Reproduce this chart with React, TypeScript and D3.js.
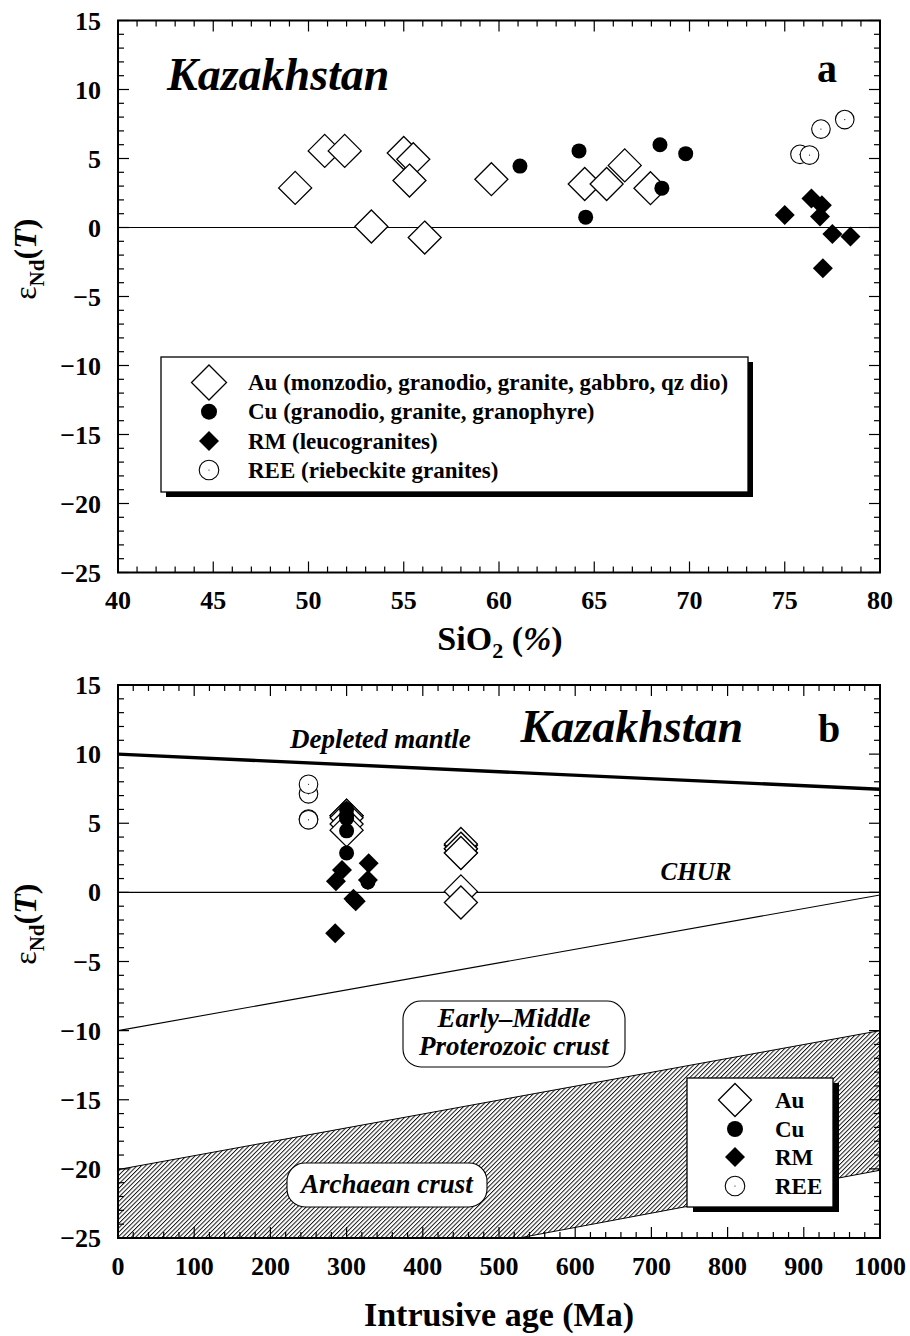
import React from "react";
import * as d3 from "d3";

// ---------- Panel a data (SiO2 %, eNd(T)) ----------
const auSiO2 = [49.3, 50.85, 51.9, 53.3, 55.0, 55.5, 55.3, 56.1, 59.6, 64.5, 65.65, 66.6, 67.95];
const auEps = [2.87, 5.55, 5.55, 0.07, 5.4, 4.95, 3.4, -0.73, 3.5, 3.15, 3.15, 4.5, 2.85];
const cuSiO2 = [61.1, 64.2, 64.55, 68.45, 69.8, 68.55];
const cuEps = [4.45, 5.55, 0.75, 6.0, 5.35, 2.85];
const rmSiO2 = [75.0, 76.4, 76.95, 76.85, 77.5, 78.45, 77.0];
const rmEps = [0.9, 2.1, 1.62, 0.8, -0.47, -0.65, -2.96];
const reeSiO2 = [75.8, 76.3, 76.9, 78.15];
const reeEps = [5.3, 5.25, 7.13, 7.82];

// ---------- Panel b data (intrusive age, Ma) ----------
const auAge = [450, 300, 300, 450, 300, 300, 450, 450, 450, 450, 450, 300, 450];
const cuAge = [300, 300, 328, 300, 300, 300];
const rmAge = [328, 329, 294, 286, 309, 312, 285];
const reeAge = [250, 250, 250, 250];

// reference curves (age Ma, eNd)
const depletedMantle = [[0, 10], [1000, 7.46]];
const churLine = [[0, 0], [1000, 0]];
const proterozoicLine = [[0, -10], [1000, -0.19]];
const archaeanUpper = [[0, -20.05], [1000, -10]];
const archaeanLower = [[0, -25], [526, -25], [1000, -20.1]];

// axes
const siTicks = [40, 45, 50, 55, 60, 65, 70, 75, 80];
const ageTicks = [0, 100, 200, 300, 400, 500, 600, 700, 800, 900, 1000];
const epsTicks = [15, 10, 5, 0, -5, -10, -15, -20, -25];

const legendALabels = [
  "Au (monzodio, granodio, granite, gabbro, qz dio)",
  "Cu (granodio, granite, granophyre)",
  "RM (leucogranites)",
  "REE (riebeckite granites)",
];
const legendBLabels = ["Au", "Cu", "RM", "REE"];

const FONT = "Liberation Serif";
const L = 118, R = 880;
const A_TOP = 20.5, A_BOT = 572.5;
const B_TOP = 685, B_BOT = 1238;

const sx = d3.scaleLinear().domain([40, 80]).range([L, R]);
const syA = d3.scaleLinear().domain([-25, 15]).range([A_BOT, A_TOP]);
const ax = d3.scaleLinear().domain([0, 1000]).range([L, R]);
const syB = d3.scaleLinear().domain([-25, 15]).range([B_BOT, B_TOP]);

const diamond = (cx: number, cy: number, h: number) =>
  `M${cx},${cy - h}L${cx + h},${cy}L${cx},${cy + h}L${cx - h},${cy}Z`;

function AuMark({ x, y, h = 16.5 }: { x: number; y: number; h?: number }) {
  return <path d={diamond(x, y, h)} fill="#fff" stroke="#000" strokeWidth={1.3} />;
}
function CuMark({ x, y, r = 7.5 }: { x: number; y: number; r?: number }) {
  return <circle cx={x} cy={y} r={r} fill="#000" />;
}
function RmMark({ x, y, h = 10 }: { x: number; y: number; h?: number }) {
  return <path d={diamond(x, y, h)} fill="#000" />;
}
function ReeMark({ x, y, r = 9.3 }: { x: number; y: number; r?: number }) {
  return (
    <g>
      <circle cx={x} cy={y} r={r} fill="#fff" stroke="#000" strokeWidth={1.1} />
      <circle cx={x} cy={y} r={0.6} fill="#000" />
    </g>
  );
}

function Frame({
  xs, ys, xMajor, xMinorStep, top, bot,
}: {
  xs: d3.ScaleLinear<number, number>; ys: d3.ScaleLinear<number, number>;
  xMajor: number[]; xMinorStep: number; top: number; bot: number;
}) {
  const [x0, x1] = xs.domain();
  const xMinor = d3.range(x0, x1 + 1e-9, xMinorStep);
  const yMinor = d3.range(-25, 15 + 1e-9, 1);
  const els: React.ReactNode[] = [];
  xMinor.forEach((v, i) => {
    const major = xMajor.some((m) => Math.abs(m - v) < 1e-6);
    const len = major ? 11 : 6;
    const px = xs(v);
    els.push(<line key={"xb" + i} x1={px} x2={px} y1={bot} y2={bot - len} stroke="#000" strokeWidth={1.2} />);
    els.push(<line key={"xt" + i} x1={px} x2={px} y1={top} y2={top + len} stroke="#000" strokeWidth={1.2} />);
  });
  yMinor.forEach((v, i) => {
    const major = Math.abs(v % 5) < 1e-6;
    const len = major ? 11 : 6;
    const py = ys(v);
    els.push(<line key={"yl" + i} x1={L} x2={L + len} y1={py} y2={py} stroke="#000" strokeWidth={1.2} />);
    els.push(<line key={"yr" + i} x1={R} x2={R - len} y1={py} y2={py} stroke="#000" strokeWidth={1.2} />);
  });
  return (
    <g>
      {els}
      <rect x={L} y={top} width={R - L} height={bot - top} fill="none" stroke="#000" strokeWidth={2} />
      {epsTicks.map((t) => (
        <text key={"yt" + t} x={L - 17} y={ys(t)} dy="0.35em" textAnchor="end"
          fontFamily={FONT} fontWeight="bold" fontSize={26}>
          {t < 0 ? "\u2212" + Math.abs(t) : t}
        </text>
      ))}
      {xMajor.map((t) => (
        <text key={"xt" + t} x={xs(t)} y={bot + 36.5} textAnchor="middle"
          fontFamily={FONT} fontWeight="bold" fontSize={26}>
          {t}
        </text>
      ))}
    </g>
  );
}

function YLabel({ cy }: { cy: number }) {
  return (
    <text transform={`translate(36,${cy}) rotate(-90)`} textAnchor="middle"
      fontFamily={FONT} fontSize={32}>
      <tspan>ε</tspan>
      <tspan fontWeight="bold" fontSize={21} dy="8">Nd</tspan>
      <tspan fontWeight="bold" dy="-8">(</tspan>
      <tspan fontWeight="bold" fontStyle="italic">T</tspan>
      <tspan fontWeight="bold">)</tspan>
    </text>
  );
}

function RoundBox({ x, y, w, h, lines, baselines, fs }: { x: number; y: number; w: number; h: number; lines: string[]; baselines: number[]; fs: number }) {
  return (
    <g>
      <rect x={x} y={y} width={w} height={h} rx={18} ry={18} fill="#fff" stroke="#000" strokeWidth={1.1} />
      {lines.map((t, i) => (
        <text key={i} x={x + w / 2} y={baselines[i]} textAnchor="middle"
          fontFamily={FONT} fontWeight="bold" fontStyle="italic" fontSize={fs}>
          {t}
        </text>
      ))}
    </g>
  );
}

export default function App() {
  const lb = d3.line<number[]>().x((d) => ax(d[0])).y((d) => syB(d[1]));

  const lowerAt = (t: number) => {
    for (let i = 0; i < archaeanLower.length - 1; i++) {
      const [t0, e0] = archaeanLower[i];
      const [t1, e1] = archaeanLower[i + 1];
      if (t >= t0 && t <= t1) return e0 + ((t - t0) / (t1 - t0)) * (e1 - e0);
    }
    return -25;
  };
  const upperAt = (t: number) =>
    archaeanUpper[0][1] + ((t - archaeanUpper[0][0]) / (archaeanUpper[1][0] - archaeanUpper[0][0])) * (archaeanUpper[1][1] - archaeanUpper[0][1]);
  const bandTs = Array.from(new Set([...archaeanLower.map((d) => d[0]), ...archaeanUpper.map((d) => d[0])])).sort((a, b) => a - b);
  const band = d3.area<number>().x((t) => ax(t)).y0((t) => syB(lowerAt(t))).y1((t) => syB(upperAt(t)))(bandTs) || "";

  const legARows = [382.5, 411.7, 441, 470];
  const legBRows = [1100, 1129, 1157, 1186];

  return (
    <svg width={910} height={1336} style={{ position: "absolute", left: 0, top: 0, background: "#fff" }}
      xmlns="http://www.w3.org/2000/svg">
      <defs>
        <pattern id="hatch" patternUnits="userSpaceOnUse" width={3.1} height={3.1} patternTransform="rotate(45)">
          <line x1={0.5} y1={0} x2={0.5} y2={3.1} stroke="#000" strokeWidth={0.9} />
        </pattern>
        <clipPath id="clipB">
          <rect x={L} y={B_TOP} width={R - L} height={B_BOT - B_TOP} />
        </clipPath>
      </defs>
      <rect x={0} y={0} width={910} height={1336} fill="#fff" />

      {/* ================= Panel a ================= */}
      <line x1={L} x2={R} y1={syA(0)} y2={syA(0)} stroke="#000" strokeWidth={1.1} />
      <Frame xs={sx} ys={syA} xMajor={siTicks} xMinorStep={1} top={A_TOP} bot={A_BOT} />
      <text x={167} y={syA(10)} fontFamily={FONT} fontWeight="bold" fontStyle="italic" fontSize={46}>Kazakhstan</text>
      <text x={817} y={82} fontFamily={FONT} fontWeight="bold" fontSize={40}>a</text>

      {auSiO2.map((v, i) => <AuMark key={"aa" + i} x={sx(v)} y={syA(auEps[i])} />)}
      {cuSiO2.map((v, i) => <CuMark key={"ac" + i} x={sx(v)} y={syA(cuEps[i])} />)}
      {rmSiO2.map((v, i) => <RmMark key={"ar" + i} x={sx(v)} y={syA(rmEps[i])} />)}
      {reeSiO2.map((v, i) => <ReeMark key={"ae" + i} x={sx(v)} y={syA(reeEps[i])} />)}

      {/* legend a */}
      <rect x={166} y={362} width={587} height={135} fill="#000" />
      <rect x={161} y={357} width={587} height={135} fill="#fff" stroke="#000" strokeWidth={1.3} />
      <AuMark x={209} y={legARows[0]} h={17.5} />
      <CuMark x={209} y={legARows[1]} r={8} />
      <RmMark x={209} y={legARows[2]} />
      <ReeMark x={209} y={legARows[3]} r={9.8} />
      {legendALabels.map((t, i) => (
        <text key={t} x={248} y={legARows[i]} dy="0.33em" fontFamily={FONT} fontWeight="bold" fontSize={23}>{t}</text>
      ))}

      <YLabel cy={syA(-2.3)} />
      <text x={500} y={650} textAnchor="middle" fontFamily={FONT} fontWeight="bold" fontSize={34}>
        SiO<tspan fontSize={22} dy="8">2</tspan><tspan dy="-8"> (</tspan><tspan fontStyle="italic">%</tspan>)
      </text>

      {/* ================= Panel b ================= */}
      <g clipPath="url(#clipB)">
        <path d={band} fill="url(#hatch)" stroke="none" />
        <path d={lb(archaeanUpper) || ""} fill="none" stroke="#000" strokeWidth={1} />
        <path d={lb(archaeanLower) || ""} fill="none" stroke="#000" strokeWidth={1} />
        <path d={lb(proterozoicLine) || ""} fill="none" stroke="#000" strokeWidth={1.1} />
        <path d={lb(churLine) || ""} fill="none" stroke="#000" strokeWidth={1.1} />
        <path d={lb(depletedMantle) || ""} fill="none" stroke="#000" strokeWidth={3.4} />
      </g>
      <Frame xs={ax} ys={syB} xMajor={ageTicks} xMinorStep={20} top={B_TOP} bot={B_BOT} />

      <text x={743} y={742} textAnchor="end" fontFamily={FONT} fontWeight="bold" fontStyle="italic" fontSize={46}>Kazakhstan</text>
      <text x={818} y={742} fontFamily={FONT} fontWeight="bold" fontSize={40}>b</text>
      <text x={290} y={748} fontFamily={FONT} fontWeight="bold" fontStyle="italic" fontSize={27}>Depleted mantle</text>
      <text x={696} y={880} textAnchor="middle" fontFamily={FONT} fontWeight="bold" fontStyle="italic" fontSize={25}>CHUR</text>

      <RoundBox x={403} y={1001} w={222} h={66} lines={["Early\u2013Middle", "Proterozoic crust"]} baselines={[1027, 1055]} fs={27} />
      <RoundBox x={287} y={1163} w={200} h={44} lines={["Archaean crust"]} baselines={[1193]} fs={27} />

      {auAge.map((v, i) => <AuMark key={"ba" + i} x={ax(v)} y={syB(auEps[i])} />)}
      {cuAge.map((v, i) => <CuMark key={"bc" + i} x={ax(v)} y={syB(cuEps[i])} />)}
      {rmAge.map((v, i) => <RmMark key={"br" + i} x={ax(v)} y={syB(rmEps[i])} />)}
      {reeAge.map((v, i) => <ReeMark key={"be" + i} x={ax(v)} y={syB(reeEps[i])} />)}

      {/* legend b */}
      <rect x={693} y={1083} width={146} height={129} fill="#000" />
      <rect x={687} y={1078} width={146} height={129} fill="#fff" stroke="#000" strokeWidth={1.3} />
      <AuMark x={735} y={legBRows[0]} h={16.5} />
      <CuMark x={735} y={legBRows[1]} r={8} />
      <RmMark x={735} y={legBRows[2]} />
      <ReeMark x={735} y={legBRows[3]} r={9.8} />
      {legendBLabels.map((t, i) => (
        <text key={t} x={775} y={legBRows[i]} dy="0.33em" fontFamily={FONT} fontWeight="bold" fontSize={23}>{t}</text>
      ))}

      <YLabel cy={syB(-2.3)} />
      <text x={499} y={1326} textAnchor="middle" fontFamily={FONT} fontWeight="bold" fontSize={34}>Intrusive age (Ma)</text>
    </svg>
  );
}
